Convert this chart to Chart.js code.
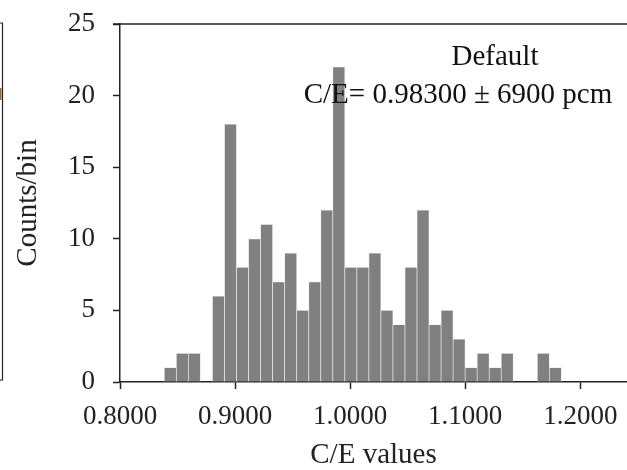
<!DOCTYPE html>
<html>
<head>
<meta charset="utf-8">
<script src="https://cdn.jsdelivr.net/npm/chart.js@4"></script>
<style>
  html, body { margin: 0; padding: 0; background: #fff; }
  #wrap { width: 627px; height: 470px; position: relative; }
</style>
</head>
<body>
<div id="wrap"><canvas id="histChart"></canvas></div>
<script>
// bin centres of the C/E histogram (bin width ~0.01046)
var binCenters = [
    0.84375, 0.85421, 0.86466, 0.87512, 0.88558, 0.89603, 0.90649, 0.91695,
    0.92740, 0.93786, 0.94832, 0.95877, 0.96923, 0.97969, 0.99014, 1.00060,
    1.01106, 1.02151, 1.03197, 1.04243, 1.05288, 1.06334, 1.07380, 1.08425,
    1.09471, 1.10517, 1.11562, 1.12608, 1.13654, 1.14699, 1.15745, 1.16791,
    1.17836
];
var counts = [
    1, 2, 2, 0, 6, 18, 8, 10,
    11, 7, 9, 5, 7, 12, 22, 8,
    8, 9, 5, 4, 8, 12, 4, 5,
    3, 1, 2, 1, 2, 0, 0, 2,
    1
];
var xTicks = [0.8, 0.9, 1.0, 1.1, 1.2];
var yTicks = [0, 5, 10, 15, 20, 25];
var labelLines = ['Default', 'C/E= 0.98300 \u00b1 6900 pcm'];

var serif = '"Liberation Serif", "DejaVu Serif", serif';
var axisColor = '#222';

var points = binCenters.map(function (c, i) {
    return { x: c, y: counts[i] };
});

// top spine, the text box and the edge of the neighbouring panel
var extras = {
    id: 'extras',
    afterDatasetsDraw: function (chart) {
        var ctx = chart.ctx;
        var area = chart.chartArea;
        ctx.save();
        ctx.strokeStyle = axisColor;
        ctx.lineWidth = 1.5;
        ctx.beginPath();
        ctx.moveTo(area.left - 7, area.top);
        ctx.lineTo(chart.width, area.top);
        ctx.stroke();

        // cut-off frame of the panel on the left
        ctx.lineWidth = 1.2;
        ctx.beginPath();
        ctx.moveTo(0, 23);
        ctx.lineTo(2.5, 23);
        ctx.lineTo(2.5, 380);
        ctx.lineTo(0, 380);
        ctx.stroke();
        ctx.fillStyle = '#8a6a4a';
        ctx.fillRect(0, 88, 1.5, 12);

        ctx.fillStyle = '#111';
        ctx.font = '29px ' + serif;
        ctx.textAlign = 'center';
        ctx.textBaseline = 'middle';
        ctx.fillText(labelLines[0], 495, 57);
        ctx.fillText(labelLines[1], 458, 95);
        ctx.restore();
    }
};

var ctx = document.getElementById('histChart').getContext('2d');
var histChart = new Chart(ctx, {
    type: 'bar',
    data: {
        datasets: [{
            data: points,
            backgroundColor: '#808080',
            borderColor: '#e6e6e6',
            borderWidth: 0.7,
            barPercentage: 1,
            categoryPercentage: 1
        }]
    },
    plugins: [extras],
    options: {
        responsive: true,
        maintainAspectRatio: false,
        animation: false,
        layout: { padding: { top: 24, right: 0, left: 0, bottom: 0 } },
        plugins: {
            legend: { display: false },
            tooltip: { enabled: false }
        },
        scales: {
            x: {
                type: 'linear',
                offset: false,
                min: 0.8,
                max: 1.2406,
                afterFit: function (scale) {
                    scale.height = 88;
                    scale.paddingLeft = 0;
                    scale.paddingRight = 0;
                },
                afterBuildTicks: function (scale) {
                    scale.ticks = xTicks.map(function (v) { return { value: v }; });
                },
                ticks: {
                    color: '#222',
                    font: { family: serif, size: 27 },
                    padding: 12,
                    maxRotation: 0,
                    callback: function (v) { return Number(v).toFixed(4); }
                },
                grid: {
                    offset: false,
                    drawOnChartArea: false,
                    drawTicks: true,
                    tickLength: 7,
                    tickColor: axisColor,
                    tickWidth: 1.5
                },
                border: { display: true, color: axisColor, width: 1.5 },
                title: {
                    display: true,
                    text: 'C/E values',
                    color: '#222',
                    font: { family: serif, size: 29, lineHeight: 1 },
                    padding: { top: 0, bottom: 0 }
                }
            },
            y: {
                min: 0,
                max: 25,
                afterFit: function (scale) {
                    scale.width = 120;
                    scale.paddingTop = 0;
                    scale.paddingBottom = 0;
                },
                afterBuildTicks: function (scale) {
                    scale.ticks = yTicks.map(function (v) { return { value: v }; });
                },
                ticks: {
                    color: '#222',
                    font: { family: serif, size: 27 },
                    padding: 18
                },
                grid: {
                    drawOnChartArea: false,
                    drawTicks: true,
                    tickLength: 7,
                    tickColor: axisColor,
                    tickWidth: 1.5
                },
                border: { display: true, color: axisColor, width: 1.5 },
                title: {
                    display: true,
                    text: 'Counts/bin',
                    color: '#222',
                    font: { family: serif, size: 29, lineHeight: 1 },
                    padding: { top: 14, bottom: 0 }
                }
            }
        }
    }
});
</script>
</body>
</html>
